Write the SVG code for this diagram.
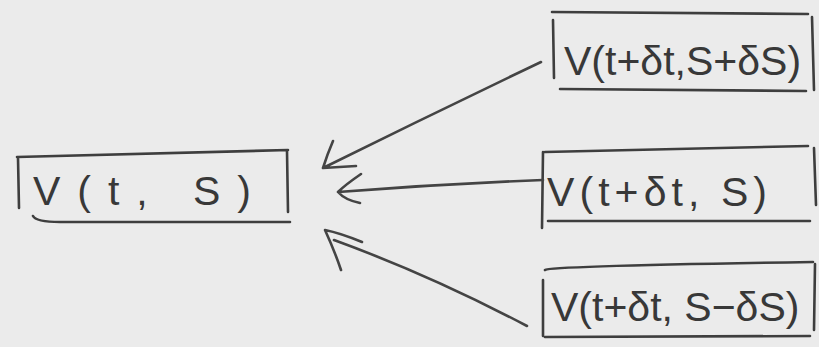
<svg xmlns="http://www.w3.org/2000/svg" width="819" height="347" viewBox="0 0 819 347">
<style>
.bg{fill:#ebebeb}
.box{fill:none;stroke:#3e3e3e;stroke-width:2.6;stroke-linecap:round;stroke-linejoin:round}
.lbl{font-family:"Liberation Sans",Arial,sans-serif;font-size:41px;fill:#383838;font-weight:normal}
.conn{fill:none;stroke:#444;stroke-width:2.6;stroke-linecap:round;stroke-linejoin:round}
</style>
<rect class="bg" x="0" y="0" width="819" height="347"/>
<g id="node-vts">
<path class="box" d="M17 157 L288 150 M18 158 L19 208 M287 151 L288 212 M33 216 Q36 222 60 222 L290 222"/>
<text class="lbl" x="33" y="205" font-size="55" textLength="218" lengthAdjust="spacing">V(t, S)</text>
</g>
<g id="node-up">
<path class="box" d="M552 12 L808 14 M553 20 L554 78 M812 17 L814 90 M560 89 L806 91"/>
<text class="lbl" x="564" y="75">V(t+δt,S+δS)</text>
</g>
<g id="node-mid">
<path class="box" d="M545 152 L808 146 M543 152 L542 228 M814 148 L816 205 M548 221 L810 221"/>
<text class="lbl" x="547" y="206" font-size="48" textLength="220" lengthAdjust="spacing">V(t+δt, S)</text>
</g>
<g id="node-down">
<path class="box" d="M545 270 Q550 266 813 262 M543 280 L543 336 M815 264 L814 330 M545 337 L810 336"/>
<text class="lbl" x="551" y="321">V(t+δt, S−δS)</text>
</g>
<g id="connectors">
<path class="conn" d="M541 62 Q430 115 323 168 M333 141 Q327 155 323 168 L356 166"/>
<path class="conn" d="M543 180 Q440 184 338 192 M361 174 Q345 185 338 192 Q345 200 360 203"/>
<path class="conn" d="M527 326 Q430 275 334 240 M362 242 Q340 233 325 230 Q335 252 341 270"/>
</g>
</svg>
